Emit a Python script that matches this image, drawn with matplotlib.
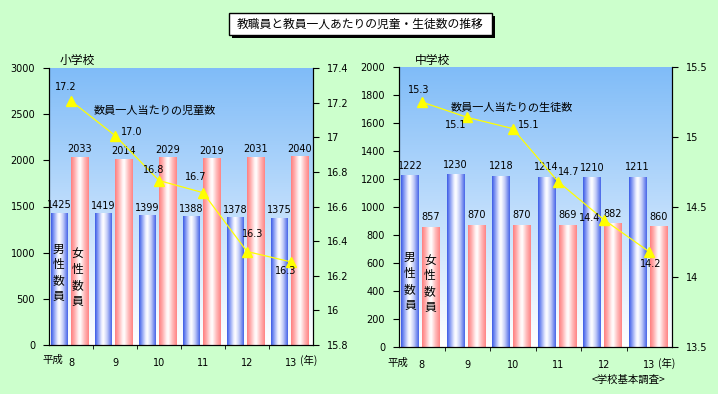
import numpy as np
import matplotlib
matplotlib.use("Agg")
import matplotlib.pyplot as plt
from matplotlib.colors import LinearSegmentedColormap
from matplotlib.patches import Rectangle
from matplotlib.ticker import FuncFormatter

plt.rcParams['font.family'] = ['DejaVu Sans', 'Noto Sans CJK JP']
JP = ['Noto Sans CJK JP', 'DejaVu Sans']

years = ['8', '9', '10', '11', '12', '13']

# 小学校 (百人)
elem_male = [1425, 1419, 1399, 1388, 1378, 1375]
elem_female = [2033, 2014, 2029, 2019, 2031, 2040]
elem_ratio = [17.21, 17.01, 16.75, 16.68, 16.34, 16.28]
elem_ratio_labels = ['17.2', '17.0', '16.8', '16.7', '16.3', '16.3']

# 中学校 (百人)
jhs_male = [1222, 1230, 1218, 1214, 1210, 1211]
jhs_female = [857, 870, 870, 869, 882, 860]
jhs_ratio = [15.25, 15.14, 15.06, 14.68, 14.41, 14.18]
jhs_ratio_labels = ['15.3', '15.1', '15.1', '14.7', '14.4', '14.2']

W, H = 718, 394
BG = '#ccffcc'

blue_cmap = LinearSegmentedColormap.from_list(
    'bluebar', [(0, '#3d5ce6'), (0.15, '#7f95f2'), (0.4, '#eef0ff'),
                (0.5, '#ffffff'), (0.72, '#c3ccf8'), (1, '#4866e8')])
pink_cmap = LinearSegmentedColormap.from_list(
    'pinkbar', [(0, '#ff7f7f'), (0.18, '#ffaaaa'), (0.42, '#fff2f2'),
                (0.52, '#ffffff'), (0.75, '#ffbcbc'), (1, '#ff8585')])
back_cmap = LinearSegmentedColormap.from_list(
    'back', [(0, '#ffffff'), (0.45, '#c4e0fc'), (1, '#80bcf8')])


def px_rect(x0, y0, x1, y1):
    return [x0 / W, 1 - y1 / H, (x1 - x0) / W, (y1 - y0) / H]


def gradient_bar(ax, x0, x1, h, cmap):
    g = cmap(np.linspace(0, 1, 64))[np.newaxis, :, :3]
    ax.imshow(g, extent=(x0, x1, 0, h), aspect='auto', zorder=2,
              interpolation='bilinear')


def draw_panel(rect, male, female, ratio, ratio_labels, ymax, ystep,
               rlim, rstep, offsets, label_off, note, note_xy, vert_xy):
    ax = fig.add_axes(rect)
    x = np.arange(len(years))
    back = back_cmap(np.linspace(0, 1, 128))[:, np.newaxis, :3]
    ax.imshow(back, extent=(0, 1, 0, 1), transform=ax.transAxes,
              aspect='auto', origin='lower', zorder=0)

    for i in x:
        gradient_bar(ax, i - 0.45, i - 0.07, male[i], blue_cmap)
        gradient_bar(ax, i + 0.01, i + 0.40, female[i], pink_cmap)
        ax.annotate(str(male[i]), (i - 0.26, male[i]), xytext=(0, label_off),
                    textcoords='offset pixels', ha='center', va='bottom',
                    fontsize=7, zorder=5)
        ax.annotate(str(female[i]), (i + 0.2, female[i]), xytext=(0, label_off),
                    textcoords='offset pixels', ha='center', va='bottom',
                    fontsize=7, zorder=5)

    ax.set_xlim(-0.5, len(years) - 0.5)
    ax.set_ylim(0, ymax)
    ax.set_yticks(np.arange(0, ymax + 1, ystep))
    ax.set_xticks(x)
    ax.set_xticklabels(years)
    ax.set_xticks(np.arange(0.5, len(years) - 1, 1), minor=True)
    ax.tick_params(axis='x', which='major', length=0, pad=9, labelsize=7)
    ax.tick_params(axis='x', which='minor', length=3, direction='out')
    ax.tick_params(axis='y', length=4, labelsize=7, pad=6)
    ax.spines['top'].set_visible(False)

    mv, fv = vert_xy
    ax.text(mv[0], mv[1], '男\n性\n数\n員', ha='center', va='center',
            fontsize=8.5, linespacing=1.3, zorder=5, family=JP)
    ax.text(fv[0], fv[1], '女\n性\n数\n員', ha='center', va='center',
            fontsize=8.5, linespacing=1.3, zorder=5, family=JP)

    axr = ax.twinx()
    axr.plot(x, ratio, color='#ffff00', lw=0.9, marker='^', ms=7,
             markeredgecolor='#ffff00', zorder=4)
    axr.set_ylim(*rlim)
    axr.set_yticks(np.arange(rlim[0], rlim[1] + 1e-6, rstep))
    axr.yaxis.set_major_formatter(FuncFormatter(lambda v, p: f'{v:g}'))
    axr.tick_params(axis='y', length=4, labelsize=7, pad=6)
    axr.spines['top'].set_visible(False)
    for i in x:
        axr.annotate(ratio_labels[i], (i, ratio[i]), xytext=offsets[i],
                     textcoords='offset pixels', ha='center', va='center',
                     fontsize=7, zorder=5)
    axr.text(note_xy[0], note_xy[1], note, transform=axr.transAxes,
             fontsize=8, ha='left', va='center', family=JP)
    return ax


fig = plt.figure(figsize=(W / 100, H / 100), dpi=100, facecolor=BG)

draw_panel(px_rect(49, 68, 313, 345), elem_male, elem_female, elem_ratio,
           elem_ratio_labels, 3000, 500, (15.8, 17.4), 0.2,
           [(-5, 14), (17, 4), (-5, 11), (-7, 16), (6, 18), (-5, -9)], 3,
           '数員一人当たりの児童数', (0.17, 0.845),
           ((-0.28, 780), (0.15, 730)))

draw_panel(px_rect(399, 67, 672, 347), jhs_male, jhs_female, jhs_ratio,
           jhs_ratio_labels, 2000, 200, (13.5, 15.5), 0.5,
           [(-3, 12), (-12, -8), (16, 4), (10, 10), (-14, 2), (1, -12)], 5,
           '数員一人当たりの生徒数', (0.19, 0.855),
           ((-0.26, 470), (0.18, 450)))

# panel titles and axis notes
fig.text(77 / W, 1 - 60 / H, '小学校', fontsize=8.5, ha='center', va='center',
         family=JP)
fig.text(432 / W, 1 - 60 / H, '中学校', fontsize=8.5, ha='center', va='center',
         family=JP)
fig.text(53 / W, 1 - 360 / H, '平成', fontsize=7.5, ha='center', va='center',
         family=JP)
fig.text(398 / W, 1 - 363 / H, '平成', fontsize=7.5, ha='center', va='center',
         family=JP)
fig.text(300 / W, 1 - 360 / H, '(年)', fontsize=7.5, ha='left', va='center',
         family=JP)
fig.text(658 / W, 1 - 363 / H, '(年)', fontsize=7.5, ha='left', va='center',
         family=JP)
fig.text(629 / W, 1 - 380 / H, '<学校基本調査>', fontsize=7.5, ha='center',
         va='center', family=JP)

# title box with drop shadow
fig.patches.append(Rectangle((232 / W, 1 - 38 / H), 263 / W, 22 / H,
                             transform=fig.transFigure, fc='black', ec='none'))
fig.patches.append(Rectangle((229 / W, 1 - 35 / H), 263 / W, 22 / H,
                             transform=fig.transFigure, fc='white', ec='black',
                             lw=1))
fig.text(360 / W, 1 - 24 / H, '教職員と教員一人あたりの児童・生徒数の推移',
         fontsize=8.5, ha='center', va='center', family=JP)

fig.savefig('out.png', dpi=100, facecolor=BG)
